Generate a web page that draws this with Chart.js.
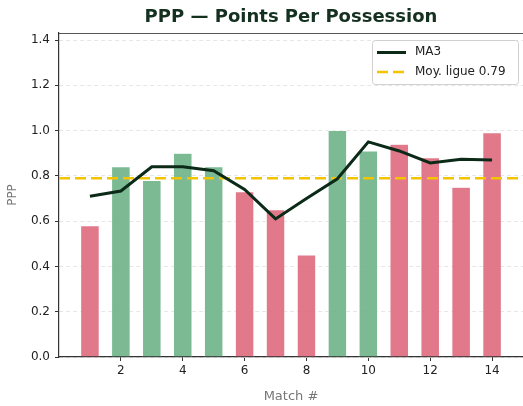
<!DOCTYPE html>
<html><head><meta charset="utf-8">
<script src="https://cdn.jsdelivr.net/npm/chart.js@4/dist/chart.umd.min.js"></script>
<style>html,body{margin:0;padding:0;background:#fff}#wrap{width:523px;height:406px}</style>
</head><body><div id="wrap"><canvas id="c" width="523" height="406"></canvas></div>
<script>
const matches = [1,2,3,4,5,6,7,8,9,10,11,12,13,14];
const ppp = [0.58,0.84,0.78,0.90,0.84,0.73,0.65,0.45,1.00,0.91,0.94,0.88,0.75,0.99];
const results = ['L','W','W','W','W','L','L','L','W','W','L','L','L','L'];
const ma3 = [0.71,0.733,0.84,0.84,0.823,0.74,0.61,0.70,0.787,0.95,0.91,0.857,0.873,0.87];
const leagueAvg = 0.79;
const xTicks = [2,4,6,8,10,12,14];
const yTicks = [0,0.2,0.4,0.6,0.8,1.0,1.2,1.4];
const titleText = 'PPP — Points Per Possession';

const GREEN = 'rgba(110,178,136,0.9)';
const RED = 'rgba(222,106,126,0.9)';
const GOLD = '#f5c400';
const DARK = '#0b2a17';

const decorPlugin = {
  id: 'decor',
  afterDatasetsDraw(chart) {
    const ctx = chart.ctx, a = chart.chartArea;
    ctx.save();
    // title centred over plot area
    ctx.fillStyle = '#14301f';
    ctx.font = 'bold 18px "DejaVu Sans"';
    ctx.textAlign = 'center'; ctx.textBaseline = 'middle';
    ctx.fillText(titleText, (a.left + a.right) / 2, 17);
    // top spine
    ctx.strokeStyle = '#555'; ctx.lineWidth = 1;
    ctx.beginPath(); ctx.moveTo(a.left, a.top + 0.5); ctx.lineTo(a.right, a.top + 0.5); ctx.stroke();
    // legend
    const x0 = 372, y0 = 40, w = 146, h = 44;
    ctx.fillStyle = 'rgba(255,255,255,0.85)';
    ctx.strokeStyle = '#d0d0d0';
    ctx.beginPath();
    ctx.roundRect(x0 + 0.5, y0 + 0.5, w, h, 3);
    ctx.fill(); ctx.stroke();
    ctx.strokeStyle = DARK; ctx.lineWidth = 3;
    ctx.beginPath(); ctx.moveTo(377, 52.5); ctx.lineTo(406, 52.5); ctx.stroke();
    ctx.strokeStyle = GOLD; ctx.lineWidth = 2.5; ctx.setLineDash([11, 5]);
    ctx.beginPath(); ctx.moveTo(377, 72); ctx.lineTo(406, 72); ctx.stroke();
    ctx.setLineDash([]);
    ctx.fillStyle = '#222'; ctx.font = '12px "DejaVu Sans"';
    ctx.textAlign = 'left'; ctx.textBaseline = 'middle';
    ctx.fillText('MA3', 415, 52);
    ctx.fillText('Moy. ligue ' + leagueAvg.toFixed(2), 415, 72);
    ctx.restore();
  }
};

new Chart(document.getElementById('c'), {
  data: {
    datasets: [
      { type: 'line', label: 'MA3', order: 0,
        data: matches.map((m, i) => ({x: m, y: ma3[i]})),
        borderColor: DARK, borderWidth: 3, pointRadius: 0, tension: 0 },
      { type: 'line', label: 'Moy. ligue 0.79', order: 1,
        data: [{x: 0, y: leagueAvg}, {x: 15, y: leagueAvg}],
        borderColor: GOLD, borderWidth: 2.5, borderDash: [11, 5], pointRadius: 0 },
      { type: 'bar', label: 'PPP', order: 2,
        data: matches.map((m, i) => ({x: m, y: ppp[i]})),
        backgroundColor: results.map(r => r === 'W' ? GREEN : RED),
        borderColor: '#ffffff', borderWidth: 0.5,
        barPercentage: 0.6, categoryPercentage: 1.0 }
    ]
  },
  plugins: [decorPlugin],
  options: {
    responsive: false, animation: false,
    layout: { padding: { left: 6, right: 0, top: 33, bottom: 0 } },
    plugins: {
      legend: { display: false },
      tooltip: { enabled: false },
      title: { display: false }
    },
    scales: {
      x: { type: 'linear', min: 0, max: 15, offset: false,
        afterBuildTicks: s => { s.ticks = xTicks.map(v => ({value: v})); },
        afterFit: s => { s.height = 49; },
        ticks: { color: '#222', font: { family: 'DejaVu Sans', size: 12 }, padding: 3, maxRotation: 0 },
        grid: { offset: false, drawOnChartArea: false, drawTicks: true, tickLength: 4, tickColor: '#333', tickWidth: 1 },
        border: { color: '#333', width: 1.2 },
        title: { display: true, text: 'Match #', color: '#777', font: { family: 'DejaVu Sans', size: 13 }, padding: { top: 2, bottom: 2 } }
      },
      y: { min: 0, max: 1.431,
        afterBuildTicks: s => { s.ticks = yTicks.map(v => ({value: v})); },
        afterFit: s => { s.width = 53; },
        ticks: { color: '#222', font: { family: 'DejaVu Sans', size: 12 }, padding: 5,
          callback: v => Number(v).toFixed(1) },
        grid: { color: '#e6e6e6', lineWidth: 1, drawTicks: true, tickLength: 4, tickColor: '#333', tickBorderDash: [] },
        border: { color: '#333', width: 1.2, dash: [4, 3] },
        title: { display: true, text: 'PPP', color: '#777', font: { family: 'DejaVu Sans', size: 12 }, padding: { top: 0, bottom: 4 } }
      }
    }
  }
});
</script></body></html>
